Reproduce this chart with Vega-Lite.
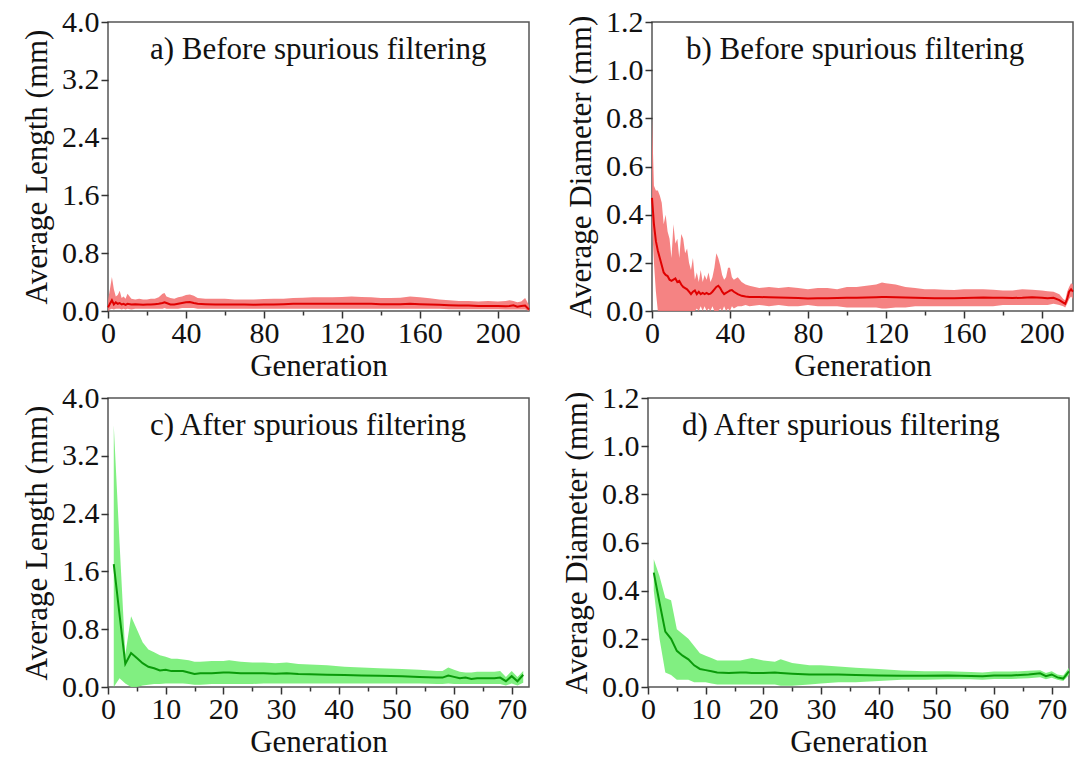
{
  "$schema": "https://vega.github.io/schema/vega-lite/v6.json",
  "padding": {"left": 20, "top": 6, "right": 0, "bottom": 0},
  "background": "white",
  "config": {
    "view": {"stroke": "#555555", "strokeWidth": 1.5},
    "font": "Liberation Serif",
    "axis": {
      "domain": false, "grid": false,
      "labelFont": "Liberation Serif", "labelFontSize": 30, "labelColor": "#111111",
      "titleFont": "Liberation Serif", "titleFontSize": 31, "titleFontWeight": "normal", "titleColor": "#111111",
      "tickColor": "#333333", "tickWidth": 1.5, "labelOverlap": false, "labelFlush": false
    },
    "axisX": {"labelPadding": 0, "titlePadding": 3},
    "axisY": {"labelPadding": 2, "titlePadding": 8},
    "title": {"font": "Liberation Serif", "fontSize": 31, "fontWeight": "normal", "color": "#111111", "anchor": "start", "frame": "group", "offset": 0, "baseline": "alphabetic"}
  },
  "datasets": {
    "lenBefore": [
      {"gen":0,"mean":0.05,"lo":0.0,"hi":0.15},{"gen":1,"mean":0.1,"lo":0.02,"hi":0.3},{"gen":2,"mean":0.15,"lo":0.03,"hi":0.47},{"gen":3,"mean":0.09,"lo":0.02,"hi":0.3},{"gen":4,"mean":0.12,"lo":0.03,"hi":0.2},{"gen":5,"mean":0.1,"lo":0.03,"hi":0.22},{"gen":6,"mean":0.11,"lo":0.03,"hi":0.28},{"gen":7,"mean":0.09,"lo":0.02,"hi":0.18},{"gen":8,"mean":0.1,"lo":0.03,"hi":0.2},{"gen":9,"mean":0.085,"lo":0.02,"hi":0.17},{"gen":10,"mean":0.1,"lo":0.03,"hi":0.24},{"gen":12,"mean":0.09,"lo":0.02,"hi":0.17},{"gen":14,"mean":0.095,"lo":0.03,"hi":0.16},{"gen":16,"mean":0.09,"lo":0.03,"hi":0.17},{"gen":18,"mean":0.085,"lo":0.03,"hi":0.16},{"gen":20,"mean":0.09,"lo":0.03,"hi":0.16},{"gen":22,"mean":0.09,"lo":0.03,"hi":0.17},{"gen":24,"mean":0.095,"lo":0.03,"hi":0.17},{"gen":26,"mean":0.1,"lo":0.03,"hi":0.19},{"gen":28,"mean":0.11,"lo":0.03,"hi":0.24},{"gen":29,"mean":0.12,"lo":0.04,"hi":0.25},{"gen":30,"mean":0.11,"lo":0.03,"hi":0.2},{"gen":32,"mean":0.09,"lo":0.03,"hi":0.18},{"gen":34,"mean":0.09,"lo":0.03,"hi":0.17},{"gen":36,"mean":0.1,"lo":0.03,"hi":0.19},{"gen":38,"mean":0.11,"lo":0.04,"hi":0.2},{"gen":40,"mean":0.12,"lo":0.04,"hi":0.22},{"gen":42,"mean":0.125,"lo":0.04,"hi":0.23},{"gen":44,"mean":0.11,"lo":0.04,"hi":0.21},{"gen":46,"mean":0.1,"lo":0.03,"hi":0.18},{"gen":50,"mean":0.095,"lo":0.03,"hi":0.17},{"gen":55,"mean":0.09,"lo":0.03,"hi":0.17},{"gen":60,"mean":0.09,"lo":0.03,"hi":0.17},{"gen":65,"mean":0.09,"lo":0.03,"hi":0.16},{"gen":70,"mean":0.09,"lo":0.03,"hi":0.16},{"gen":75,"mean":0.088,"lo":0.03,"hi":0.16},{"gen":80,"mean":0.09,"lo":0.03,"hi":0.165},{"gen":85,"mean":0.09,"lo":0.03,"hi":0.17},{"gen":90,"mean":0.095,"lo":0.03,"hi":0.17},{"gen":95,"mean":0.1,"lo":0.03,"hi":0.18},{"gen":100,"mean":0.1,"lo":0.03,"hi":0.185},{"gen":105,"mean":0.1,"lo":0.03,"hi":0.19},{"gen":110,"mean":0.1,"lo":0.03,"hi":0.19},{"gen":115,"mean":0.1,"lo":0.03,"hi":0.19},{"gen":120,"mean":0.1,"lo":0.03,"hi":0.195},{"gen":125,"mean":0.1,"lo":0.03,"hi":0.2},{"gen":130,"mean":0.1,"lo":0.03,"hi":0.195},{"gen":135,"mean":0.1,"lo":0.03,"hi":0.19},{"gen":140,"mean":0.095,"lo":0.03,"hi":0.18},{"gen":145,"mean":0.095,"lo":0.03,"hi":0.18},{"gen":150,"mean":0.095,"lo":0.03,"hi":0.185},{"gen":155,"mean":0.1,"lo":0.03,"hi":0.2},{"gen":160,"mean":0.095,"lo":0.03,"hi":0.19},{"gen":165,"mean":0.09,"lo":0.03,"hi":0.175},{"gen":170,"mean":0.085,"lo":0.03,"hi":0.16},{"gen":175,"mean":0.08,"lo":0.025,"hi":0.15},{"gen":180,"mean":0.075,"lo":0.025,"hi":0.14},{"gen":185,"mean":0.075,"lo":0.025,"hi":0.14},{"gen":190,"mean":0.07,"lo":0.025,"hi":0.13},{"gen":195,"mean":0.07,"lo":0.025,"hi":0.14},{"gen":200,"mean":0.07,"lo":0.025,"hi":0.13},{"gen":204,"mean":0.065,"lo":0.02,"hi":0.14},{"gen":206,"mean":0.07,"lo":0.02,"hi":0.15},{"gen":208,"mean":0.08,"lo":0.02,"hi":0.14},{"gen":210,"mean":0.06,"lo":0.02,"hi":0.12},{"gen":212,"mean":0.07,"lo":0.02,"hi":0.13},{"gen":214,"mean":0.075,"lo":0.02,"hi":0.18},{"gen":216,"mean":0.02,"lo":0.0,"hi":0.08}
    ],
    "diamBefore": [
      {"gen":0,"mean":0.47,"lo":0.36,"hi":0.8},{"gen":1,"mean":0.36,"lo":0.2,"hi":0.52},{"gen":2,"mean":0.29,"lo":0.08,"hi":0.5},{"gen":3,"mean":0.25,"lo":0.0,"hi":0.5},{"gen":4,"mean":0.22,"lo":0.0,"hi":0.48},{"gen":5,"mean":0.19,"lo":0.0,"hi":0.45},{"gen":6,"mean":0.16,"lo":0.0,"hi":0.36},{"gen":7,"mean":0.15,"lo":0.0,"hi":0.4},{"gen":8,"mean":0.145,"lo":0.0,"hi":0.33},{"gen":9,"mean":0.13,"lo":0.0,"hi":0.3},{"gen":10,"mean":0.125,"lo":0.0,"hi":0.22},{"gen":11,"mean":0.13,"lo":0.0,"hi":0.36},{"gen":12,"mean":0.135,"lo":0.0,"hi":0.28},{"gen":13,"mean":0.12,"lo":0.0,"hi":0.3},{"gen":14,"mean":0.125,"lo":0.0,"hi":0.22},{"gen":15,"mean":0.11,"lo":0.0,"hi":0.32},{"gen":16,"mean":0.1,"lo":0.0,"hi":0.3},{"gen":17,"mean":0.095,"lo":0.0,"hi":0.24},{"gen":18,"mean":0.09,"lo":0.0,"hi":0.26},{"gen":19,"mean":0.08,"lo":0.0,"hi":0.2},{"gen":20,"mean":0.07,"lo":0.0,"hi":0.17},{"gen":21,"mean":0.08,"lo":0.0,"hi":0.22},{"gen":22,"mean":0.085,"lo":0.0,"hi":0.13},{"gen":23,"mean":0.07,"lo":0.01,"hi":0.16},{"gen":24,"mean":0.08,"lo":0.0,"hi":0.12},{"gen":25,"mean":0.07,"lo":0.02,"hi":0.17},{"gen":26,"mean":0.075,"lo":0.0,"hi":0.12},{"gen":27,"mean":0.07,"lo":0.02,"hi":0.15},{"gen":28,"mean":0.075,"lo":0.0,"hi":0.13},{"gen":29,"mean":0.07,"lo":0.01,"hi":0.16},{"gen":30,"mean":0.072,"lo":0.0,"hi":0.12},{"gen":31,"mean":0.08,"lo":0.02,"hi":0.14},{"gen":32,"mean":0.09,"lo":0.0,"hi":0.18},{"gen":33,"mean":0.1,"lo":0.0,"hi":0.24},{"gen":34,"mean":0.105,"lo":0.0,"hi":0.22},{"gen":35,"mean":0.095,"lo":0.01,"hi":0.19},{"gen":36,"mean":0.08,"lo":0.0,"hi":0.15},{"gen":37,"mean":0.07,"lo":0.02,"hi":0.13},{"gen":38,"mean":0.075,"lo":0.0,"hi":0.14},{"gen":39,"mean":0.08,"lo":0.01,"hi":0.18},{"gen":40,"mean":0.085,"lo":0.0,"hi":0.18},{"gen":41,"mean":0.087,"lo":0.02,"hi":0.14},{"gen":42,"mean":0.08,"lo":0.01,"hi":0.13},{"gen":44,"mean":0.07,"lo":0.02,"hi":0.14},{"gen":46,"mean":0.063,"lo":0.02,"hi":0.12},{"gen":48,"mean":0.06,"lo":0.025,"hi":0.11},{"gen":50,"mean":0.058,"lo":0.02,"hi":0.105},{"gen":55,"mean":0.058,"lo":0.025,"hi":0.095},{"gen":60,"mean":0.057,"lo":0.02,"hi":0.1},{"gen":65,"mean":0.056,"lo":0.025,"hi":0.095},{"gen":70,"mean":0.055,"lo":0.02,"hi":0.1},{"gen":75,"mean":0.054,"lo":0.02,"hi":0.095},{"gen":80,"mean":0.052,"lo":0.025,"hi":0.09},{"gen":85,"mean":0.053,"lo":0.02,"hi":0.095},{"gen":90,"mean":0.053,"lo":0.02,"hi":0.095},{"gen":95,"mean":0.054,"lo":0.02,"hi":0.09},{"gen":100,"mean":0.055,"lo":0.015,"hi":0.1},{"gen":105,"mean":0.055,"lo":0.015,"hi":0.1},{"gen":110,"mean":0.056,"lo":0.015,"hi":0.105},{"gen":115,"mean":0.057,"lo":0.015,"hi":0.11},{"gen":118,"mean":0.058,"lo":0.01,"hi":0.118},{"gen":120,"mean":0.058,"lo":0.01,"hi":0.115},{"gen":125,"mean":0.057,"lo":0.015,"hi":0.11},{"gen":130,"mean":0.056,"lo":0.015,"hi":0.1},{"gen":135,"mean":0.055,"lo":0.02,"hi":0.095},{"gen":140,"mean":0.054,"lo":0.02,"hi":0.09},{"gen":145,"mean":0.053,"lo":0.02,"hi":0.09},{"gen":150,"mean":0.053,"lo":0.02,"hi":0.088},{"gen":155,"mean":0.053,"lo":0.02,"hi":0.087},{"gen":160,"mean":0.054,"lo":0.02,"hi":0.09},{"gen":165,"mean":0.055,"lo":0.02,"hi":0.09},{"gen":170,"mean":0.056,"lo":0.02,"hi":0.09},{"gen":175,"mean":0.055,"lo":0.02,"hi":0.088},{"gen":180,"mean":0.055,"lo":0.025,"hi":0.085},{"gen":185,"mean":0.054,"lo":0.025,"hi":0.085},{"gen":190,"mean":0.055,"lo":0.025,"hi":0.09},{"gen":195,"mean":0.057,"lo":0.025,"hi":0.088},{"gen":200,"mean":0.055,"lo":0.025,"hi":0.085},{"gen":203,"mean":0.053,"lo":0.025,"hi":0.082},{"gen":206,"mean":0.055,"lo":0.03,"hi":0.08},{"gen":209,"mean":0.045,"lo":0.025,"hi":0.07},{"gen":211,"mean":0.035,"lo":0.02,"hi":0.05},{"gen":212,"mean":0.03,"lo":0.015,"hi":0.045},{"gen":213,"mean":0.05,"lo":0.03,"hi":0.08},{"gen":214,"mean":0.08,"lo":0.05,"hi":0.1},{"gen":215,"mean":0.09,"lo":0.06,"hi":0.115},{"gen":216,"mean":0.08,"lo":0.05,"hi":0.11}
    ],
    "lenAfter": [
      {"gen":1,"mean":1.7,"lo":0.0,"hi":3.62},{"gen":2,"mean":1.0,"lo":0.12,"hi":2.0},{"gen":3,"mean":0.32,"lo":0.05,"hi":0.45},{"gen":4,"mean":0.47,"lo":0.0,"hi":0.98},{"gen":5,"mean":0.4,"lo":0.0,"hi":0.8},{"gen":6,"mean":0.33,"lo":0.02,"hi":0.62},{"gen":7,"mean":0.28,"lo":0.03,"hi":0.52},{"gen":8,"mean":0.26,"lo":0.04,"hi":0.48},{"gen":9,"mean":0.23,"lo":0.04,"hi":0.44},{"gen":10,"mean":0.24,"lo":0.05,"hi":0.42},{"gen":11,"mean":0.22,"lo":0.05,"hi":0.39},{"gen":12,"mean":0.22,"lo":0.05,"hi":0.39},{"gen":13,"mean":0.22,"lo":0.05,"hi":0.38},{"gen":14,"mean":0.2,"lo":0.04,"hi":0.37},{"gen":15,"mean":0.18,"lo":0.03,"hi":0.35},{"gen":16,"mean":0.19,"lo":0.03,"hi":0.35},{"gen":18,"mean":0.19,"lo":0.04,"hi":0.36},{"gen":20,"mean":0.2,"lo":0.04,"hi":0.36},{"gen":21,"mean":0.2,"lo":0.04,"hi":0.37},{"gen":23,"mean":0.19,"lo":0.04,"hi":0.35},{"gen":25,"mean":0.19,"lo":0.04,"hi":0.34},{"gen":27,"mean":0.19,"lo":0.05,"hi":0.34},{"gen":29,"mean":0.185,"lo":0.05,"hi":0.33},{"gen":31,"mean":0.19,"lo":0.05,"hi":0.34},{"gen":33,"mean":0.18,"lo":0.05,"hi":0.32},{"gen":35,"mean":0.175,"lo":0.05,"hi":0.31},{"gen":38,"mean":0.17,"lo":0.05,"hi":0.3},{"gen":41,"mean":0.166,"lo":0.05,"hi":0.28},{"gen":44,"mean":0.16,"lo":0.05,"hi":0.27},{"gen":47,"mean":0.155,"lo":0.05,"hi":0.26},{"gen":51,"mean":0.15,"lo":0.05,"hi":0.25},{"gen":54,"mean":0.14,"lo":0.05,"hi":0.24},{"gen":57,"mean":0.13,"lo":0.04,"hi":0.22},{"gen":58,"mean":0.13,"lo":0.04,"hi":0.22},{"gen":59,"mean":0.16,"lo":0.05,"hi":0.27},{"gen":60,"mean":0.14,"lo":0.04,"hi":0.24},{"gen":61,"mean":0.12,"lo":0.04,"hi":0.21},{"gen":62,"mean":0.13,"lo":0.04,"hi":0.2},{"gen":63,"mean":0.11,"lo":0.04,"hi":0.2},{"gen":64,"mean":0.12,"lo":0.04,"hi":0.21},{"gen":66,"mean":0.12,"lo":0.04,"hi":0.21},{"gen":67,"mean":0.12,"lo":0.04,"hi":0.21},{"gen":68,"mean":0.13,"lo":0.04,"hi":0.22},{"gen":69,"mean":0.08,"lo":0.02,"hi":0.14},{"gen":70,"mean":0.15,"lo":0.05,"hi":0.22},{"gen":71,"mean":0.08,"lo":0.02,"hi":0.14},{"gen":72,"mean":0.17,"lo":0.06,"hi":0.22}
    ],
    "diamAfter": [
      {"gen":1,"mean":0.475,"lo":0.4,"hi":0.53},{"gen":2,"mean":0.35,"lo":0.2,"hi":0.46},{"gen":3,"mean":0.23,"lo":0.06,"hi":0.37},{"gen":4,"mean":0.2,"lo":0.05,"hi":0.36},{"gen":5,"mean":0.15,"lo":0.03,"hi":0.24},{"gen":6,"mean":0.13,"lo":0.03,"hi":0.22},{"gen":7,"mean":0.115,"lo":0.03,"hi":0.2},{"gen":8,"mean":0.09,"lo":0.02,"hi":0.17},{"gen":9,"mean":0.075,"lo":0.02,"hi":0.14},{"gen":10,"mean":0.07,"lo":0.02,"hi":0.13},{"gen":11,"mean":0.065,"lo":0.015,"hi":0.12},{"gen":12,"mean":0.06,"lo":0.01,"hi":0.11},{"gen":14,"mean":0.058,"lo":0.01,"hi":0.11},{"gen":16,"mean":0.06,"lo":0.01,"hi":0.11},{"gen":17,"mean":0.06,"lo":0.01,"hi":0.115},{"gen":18,"mean":0.058,"lo":0.01,"hi":0.12},{"gen":20,"mean":0.058,"lo":0.01,"hi":0.11},{"gen":22,"mean":0.06,"lo":0.01,"hi":0.105},{"gen":23,"mean":0.058,"lo":0.005,"hi":0.115},{"gen":25,"mean":0.055,"lo":0.005,"hi":0.1},{"gen":28,"mean":0.052,"lo":0.01,"hi":0.09},{"gen":30,"mean":0.052,"lo":0.015,"hi":0.09},{"gen":33,"mean":0.052,"lo":0.02,"hi":0.085},{"gen":36,"mean":0.05,"lo":0.02,"hi":0.08},{"gen":40,"mean":0.048,"lo":0.025,"hi":0.075},{"gen":44,"mean":0.047,"lo":0.03,"hi":0.068},{"gen":48,"mean":0.047,"lo":0.03,"hi":0.065},{"gen":52,"mean":0.048,"lo":0.032,"hi":0.065},{"gen":56,"mean":0.046,"lo":0.032,"hi":0.062},{"gen":58,"mean":0.045,"lo":0.03,"hi":0.06},{"gen":60,"mean":0.048,"lo":0.033,"hi":0.064},{"gen":63,"mean":0.048,"lo":0.033,"hi":0.064},{"gen":66,"mean":0.052,"lo":0.036,"hi":0.067},{"gen":68,"mean":0.057,"lo":0.04,"hi":0.07},{"gen":69,"mean":0.045,"lo":0.032,"hi":0.058},{"gen":70,"mean":0.052,"lo":0.038,"hi":0.065},{"gen":71,"mean":0.04,"lo":0.03,"hi":0.052},{"gen":72,"mean":0.035,"lo":0.025,"hi":0.048},{"gen":73,"mean":0.065,"lo":0.05,"hi":0.08}
    ]
  },
  "vconcat": [
    {
      "spacing": 30,
      "hconcat": [
        {
          "width": 421, "height": 289,
          "data": {"name": "lenBefore"},
          "title": {"text": "a) Before spurious filtering", "dx": 42, "dy": 63},
          "encoding": {
            "x": {"field": "gen", "type": "quantitative", "title": "Generation",
              "scale": {"domain": [0, 216], "nice": false, "zero": false},
              "axis": {"values": [0,20,40,60,80,100,120,140,160,180,200], "labelExpr": "datum.value % 40 == 0 ? datum.label : ''",
                "tickSize": {"condition": {"test": "datum.value % 40 == 0", "value": 7}, "value": 4}}}
          },
          "layer": [
            {"mark": {"type": "area", "color": "#f47676", "opacity": 0.9},
             "encoding": {
               "y": {"field": "lo", "type": "quantitative", "title": "Average Length (mm)",
                 "scale": {"domain": [0, 4], "nice": false},
                 "axis": {"values": [0,0.4,0.8,1.2,1.6,2,2.4,2.8,3.2,3.6,4], "labelExpr": "round(datum.value*10) % 8 == 0 ? format(datum.value, '.1f') : ''",
                   "tickSize": {"condition": {"test": "round(datum.value*10) % 8 == 0", "value": 7}, "value": 4}}},
               "y2": {"field": "hi"}}},
            {"mark": {"type": "line", "color": "#e00000", "strokeWidth": 2},
             "encoding": {"y": {"field": "mean", "type": "quantitative"}}}
          ]
        },
        {
          "width": 421, "height": 289,
          "data": {"name": "diamBefore"},
          "title": {"text": "b) Before spurious filtering", "dx": 34, "dy": 63},
          "encoding": {
            "x": {"field": "gen", "type": "quantitative", "title": "Generation",
              "scale": {"domain": [0, 216], "nice": false, "zero": false},
              "axis": {"values": [0,20,40,60,80,100,120,140,160,180,200], "labelExpr": "datum.value % 40 == 0 ? datum.label : ''",
                "tickSize": {"condition": {"test": "datum.value % 40 == 0", "value": 7}, "value": 4}}}
          },
          "layer": [
            {"mark": {"type": "area", "color": "#f47676", "opacity": 0.9},
             "encoding": {
               "y": {"field": "lo", "type": "quantitative", "title": "Average Diameter (mm)",
                 "scale": {"domain": [0, 1.2], "nice": false},
                 "axis": {"values": [0,0.1,0.2,0.3,0.4,0.5,0.6,0.7,0.8,0.9,1,1.1,1.2], "labelExpr": "round(datum.value*10) % 2 == 0 ? format(datum.value, '.1f') : ''",
                   "tickSize": {"condition": {"test": "round(datum.value*10) % 2 == 0", "value": 7}, "value": 4}}},
               "y2": {"field": "hi"}}},
            {"mark": {"type": "line", "color": "#e00000", "strokeWidth": 2},
             "encoding": {"y": {"field": "mean", "type": "quantitative"}}}
          ]
        }
      ]
    },
    {
      "spacing": 30,
      "hconcat": [
        {
          "width": 421, "height": 289,
          "data": {"name": "lenAfter"},
          "title": {"text": "c) After spurious filtering", "dx": 42, "dy": 63},
          "encoding": {
            "x": {"field": "gen", "type": "quantitative", "title": "Generation",
              "scale": {"domain": [0, 73], "nice": false, "zero": false},
              "axis": {"values": [0,5,10,15,20,25,30,35,40,45,50,55,60,65,70], "labelExpr": "datum.value % 10 == 0 ? datum.label : ''",
                "tickSize": {"condition": {"test": "datum.value % 10 == 0", "value": 7}, "value": 4}}}
          },
          "layer": [
            {"mark": {"type": "area", "color": "#7aee7a", "opacity": 0.95},
             "encoding": {
               "y": {"field": "lo", "type": "quantitative", "title": "Average Length (mm)",
                 "scale": {"domain": [0, 4], "nice": false},
                 "axis": {"values": [0,0.4,0.8,1.2,1.6,2,2.4,2.8,3.2,3.6,4], "labelExpr": "round(datum.value*10) % 8 == 0 ? format(datum.value, '.1f') : ''",
                   "tickSize": {"condition": {"test": "round(datum.value*10) % 8 == 0", "value": 7}, "value": 4}}},
               "y2": {"field": "hi"}}},
            {"mark": {"type": "line", "color": "#0a9a0a", "strokeWidth": 2},
             "encoding": {"y": {"field": "mean", "type": "quantitative"}}}
          ]
        },
        {
          "width": 421, "height": 289,
          "data": {"name": "diamAfter"},
          "title": {"text": "d) After spurious filtering", "dx": 34, "dy": 63},
          "encoding": {
            "x": {"field": "gen", "type": "quantitative", "title": "Generation",
              "scale": {"domain": [0, 73], "nice": false, "zero": false},
              "axis": {"values": [0,5,10,15,20,25,30,35,40,45,50,55,60,65,70], "labelExpr": "datum.value % 10 == 0 ? datum.label : ''",
                "tickSize": {"condition": {"test": "datum.value % 10 == 0", "value": 7}, "value": 4}}}
          },
          "layer": [
            {"mark": {"type": "area", "color": "#7aee7a", "opacity": 0.95},
             "encoding": {
               "y": {"field": "lo", "type": "quantitative", "title": "Average Diameter (mm)",
                 "scale": {"domain": [0, 1.2], "nice": false},
                 "axis": {"values": [0,0.1,0.2,0.3,0.4,0.5,0.6,0.7,0.8,0.9,1,1.1,1.2], "labelExpr": "round(datum.value*10) % 2 == 0 ? format(datum.value, '.1f') : ''",
                   "tickSize": {"condition": {"test": "round(datum.value*10) % 2 == 0", "value": 7}, "value": 4}}},
               "y2": {"field": "hi"}}},
            {"mark": {"type": "line", "color": "#0a9a0a", "strokeWidth": 2},
             "encoding": {"y": {"field": "mean", "type": "quantitative"}}}
          ]
        }
      ]
    }
  ],
  "spacing": 0
}
